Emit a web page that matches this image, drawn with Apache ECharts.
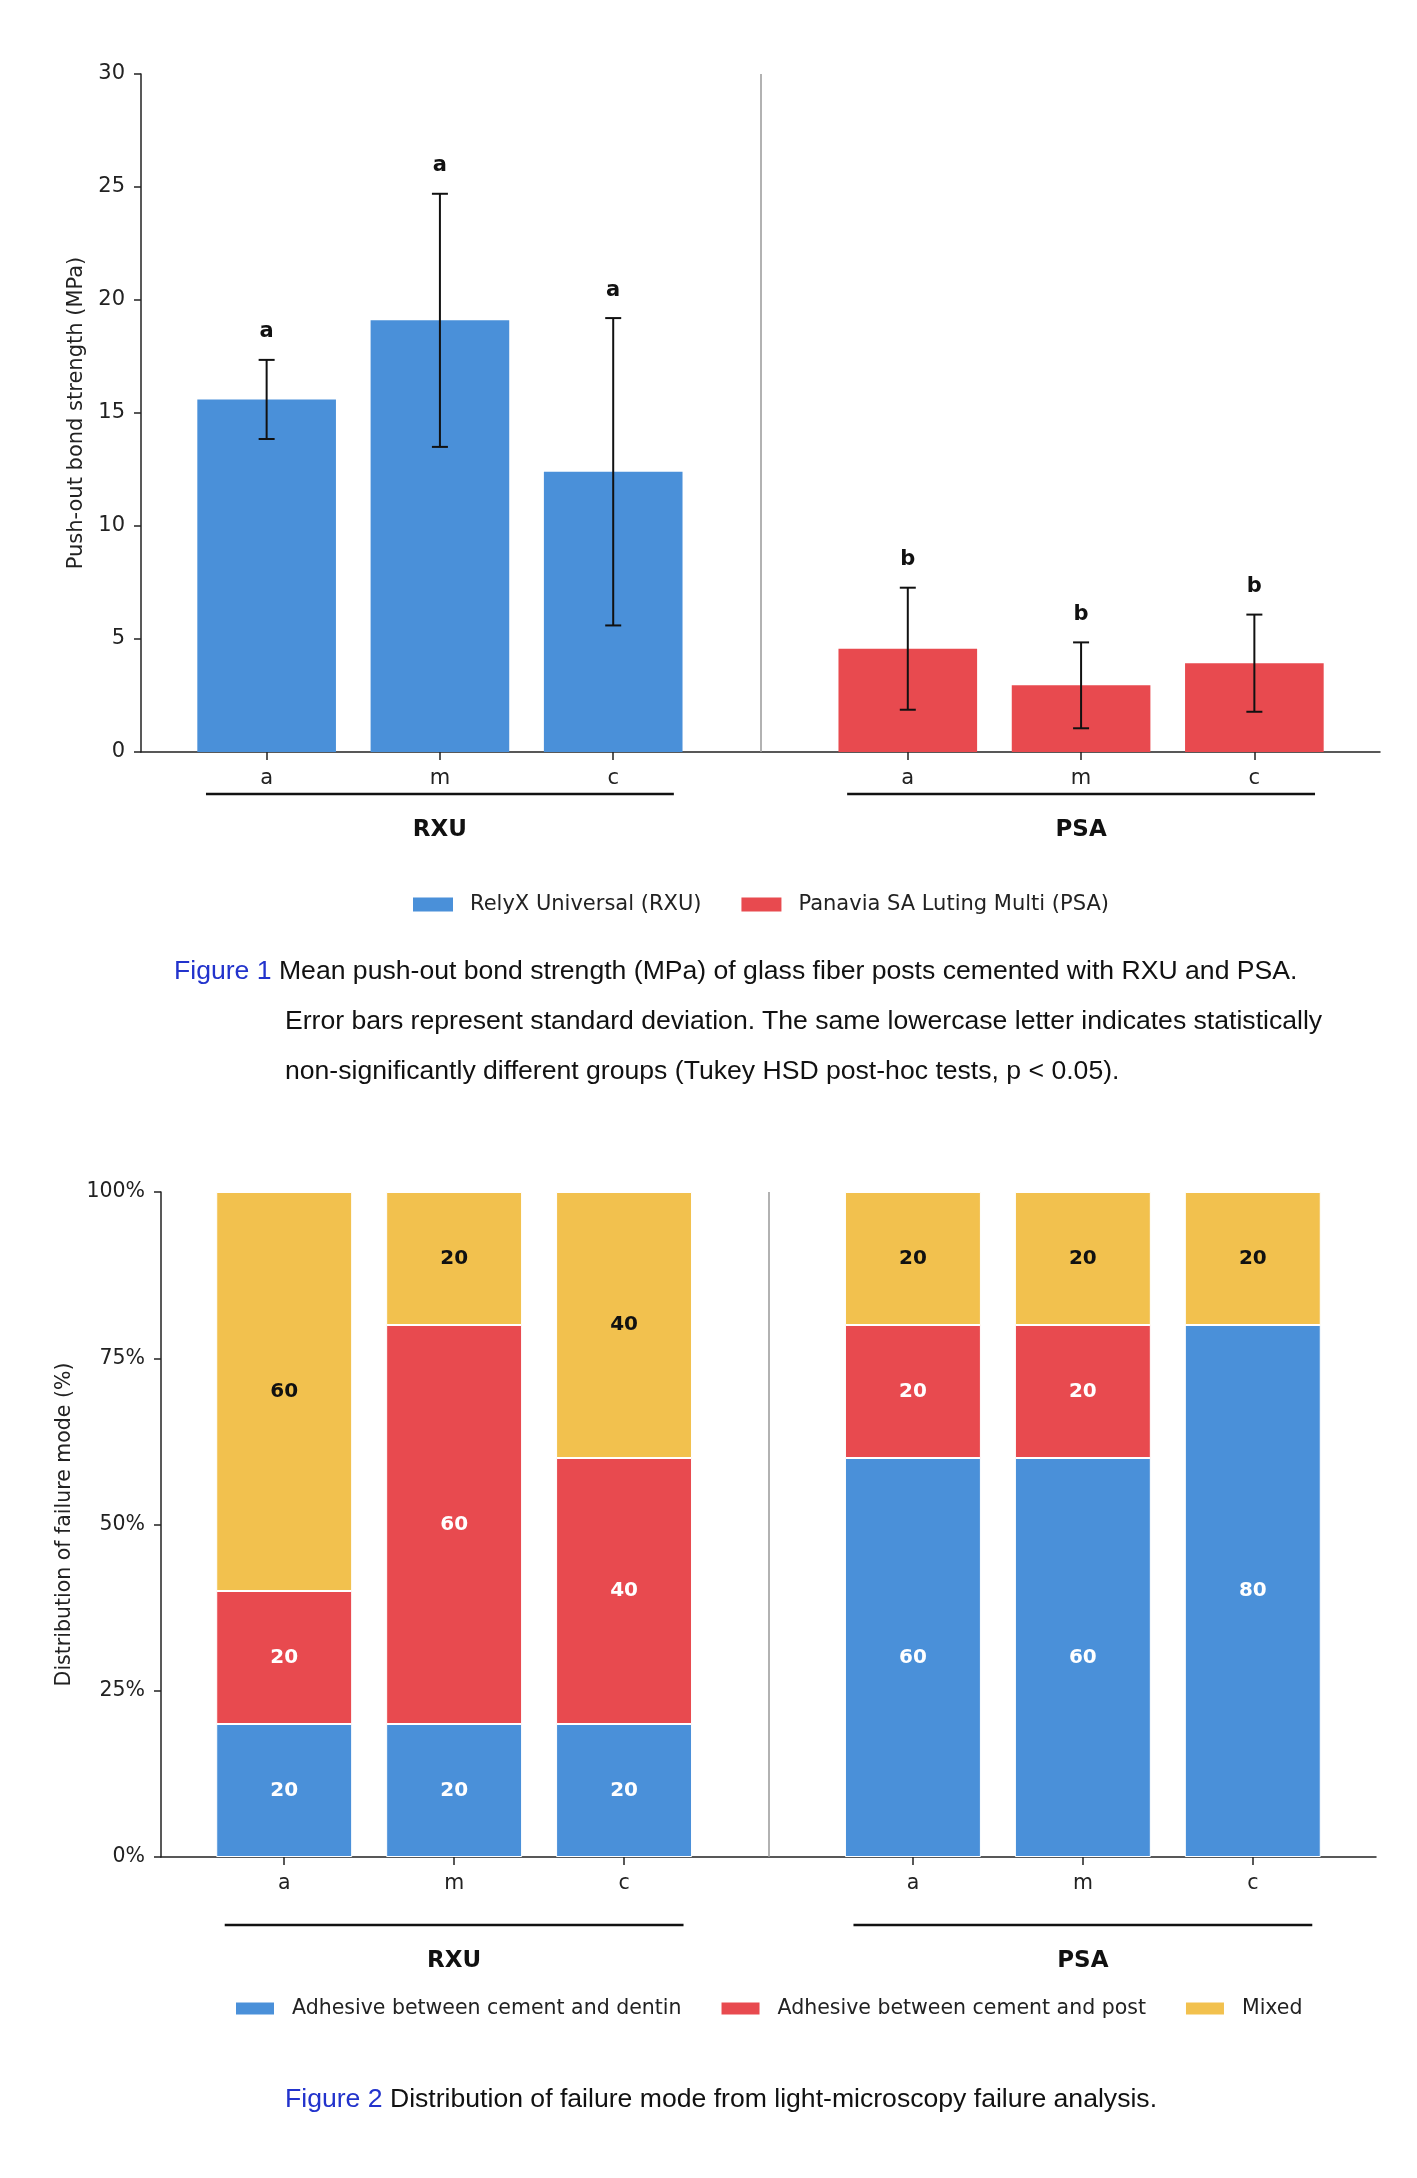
<!DOCTYPE html>
<html>
<head>
<meta charset="utf-8">
<script src="https://cdn.jsdelivr.net/npm/echarts@6/dist/echarts.min.js"></script>
<style>
  body { margin: 0; background: #fff; }
  #chart { position: absolute; left: 0; top: 0; width: 1417px; height: 2178px; }
  .cap { position: absolute; font-family: 'Liberation Sans', Arial, sans-serif; font-size: 26.6px; line-height: 50px; color: #111; white-space: nowrap; }
  .cap .fig { color: #2233cc; }
</style>
</head>
<body>
<div id="chart"></div>
<div class="cap" style="left:285px; top:945px; text-indent:-111px;">
  <span class="fig">Figure 1</span> Mean push-out bond strength (MPa) of glass fiber posts cemented with RXU and PSA.<br>
  Error bars represent standard deviation. The same lowercase letter indicates statistically<br>
  non-significantly different groups (Tukey HSD post-hoc tests, p &lt; 0.05).
</div>
<div class="cap" style="left:285px; top:2073px;">
  <span class="fig">Figure 2</span> Distribution of failure mode from light-microscopy failure analysis.
</div>
<script>
// 数据
const tickLabels = ['a', 'm', 'c', 'a', 'm', 'c'];
const positions = [0, 1, 2, 3.7, 4.7, 5.7];
const groupNames = ['RXU', 'PSA'];
const rxuMean = [15.6, 19.1, 12.4];
const rxuSD = [1.75, 5.6, 6.8];
const psaMean = [4.57, 2.95, 3.93];
const psaSD = [2.7, 1.9, 2.15];
const letters = ['a', 'a', 'a', 'b', 'b', 'b'];
const dentin = [20, 20, 20, 60, 60, 80];
const post = [20, 60, 40, 20, 20, 0];
const mixed = [60, 20, 40, 20, 20, 20];

const BLUE = '#4a90d9', RED = '#e84a4f', YELLOW = '#f2c14e';
const FONT = 'DejaVu Sans';
const FS1 = 21, FS2 = 20.5;
const xMin = -0.725, xMax = 6.425;

const grid1 = { left: 141, top: 74, width: 1239, height: 678 };
const grid2 = { left: 161, top: 1192, width: 1215, height: 665 };
const bw1 = grid1.width / (xMax - xMin) * 0.8;
const bw2 = grid2.width / (xMax - xMin) * 0.8;

const meanAll = rxuMean.concat(psaMean);
const sdAll = rxuSD.concat(psaSD);
const divider = (positions[2] + positions[3]) / 2;

function xAxisCfg(idx, fs) {
  return {
    type: 'value', gridIndex: idx, min: xMin, max: xMax,
    axisLine: { onZero: false, lineStyle: { color: '#222', width: 1.5 } },
    axisTick: { length: 8, customValues: positions, lineStyle: { color: '#222', width: 1.5 } },
    axisLabel: {
      customValues: positions, margin: 16, fontFamily: FONT, fontSize: fs, color: '#222',
      formatter: function (v) {
        let k = 0;
        positions.forEach(function (p, i) { if (Math.abs(p - v) < Math.abs(positions[k] - v)) k = i; });
        return tickLabels[k];
      }
    },
    splitLine: { show: false }
  };
}

function yAxisCfg(idx, max, interval, name, gap, fmt, fs) {
  return {
    type: 'value', gridIndex: idx, min: 0, max: max, interval: interval,
    name: name, nameLocation: 'middle', nameGap: gap,
    nameTextStyle: { fontFamily: FONT, fontSize: fs, color: '#222' },
    axisLine: { show: true, onZero: false, lineStyle: { color: '#222', width: 1.5 } },
    axisTick: { show: true, length: 7, lineStyle: { color: '#222', width: 1.5 } },
    axisLabel: { fontFamily: FONT, fontSize: fs, color: '#222', margin: 16, formatter: fmt },
    splitLine: { show: false }
  };
}

const dividerLine = {
  silent: true, symbol: 'none', label: { show: false },
  lineStyle: { color: '#999', width: 1.5, type: 'solid' },
  data: [{ xAxis: divider }]
};

// 分组横线 + 组名
function bracketSeries(xi, lineOff, textOff) {
  const data = [
    [positions[0] - 0.35, positions[2] + 0.35],
    [positions[3] - 0.35, positions[5] + 0.35]
  ];
  return {
    type: 'custom', xAxisIndex: xi, yAxisIndex: xi, silent: true, clip: false,
    data: data,
    renderItem: function (params, api) {
      const p1 = api.coord([api.value(0), 0]);
      const p2 = api.coord([api.value(1), 0]);
      return {
        type: 'group', children: [
          { type: 'line', shape: { x1: p1[0], y1: p1[1] + lineOff, x2: p2[0], y2: p1[1] + lineOff },
            style: { stroke: '#111', lineWidth: 2.5 } },
          { type: 'text', x: (p1[0] + p2[0]) / 2, y: p1[1] + textOff,
            style: { text: groupNames[params.dataIndex], fill: '#111', font: 'bold 23px ' + FONT,
              align: 'center', verticalAlign: 'middle' } }
        ]
      };
    }
  };
}

// 堆叠柱: 数值放第一维, 让 stack 作用在 y 上
function stackBar(name, vals, color, textColor) {
  return {
    name: name, type: 'bar', stack: 'fail', xAxisIndex: 1, yAxisIndex: 1,
    barWidth: bw2,
    encode: { x: 1, y: 0 },
    data: positions.map(function (p, i) { return [vals[i], p]; }),
    itemStyle: { color: color, borderColor: '#fff', borderWidth: 1 },
    label: {
      show: true, position: 'inside', fontFamily: FONT, fontSize: 20, fontWeight: 'bold', color: textColor,
      formatter: function (p) { return p.value[0] ? String(p.value[0]) : ''; }
    }
  };
}

const myChart = echarts.init(document.getElementById('chart'));
const option = {
  animation: false,
  grid: [grid1, grid2],
  xAxis: [xAxisCfg(0, FS1), xAxisCfg(1, FS2)],
  yAxis: [
    yAxisCfg(0, 30, 5, 'Push-out bond strength (MPa)', 47, '{value}', FS1),
    yAxisCfg(1, 100, 25, 'Distribution of failure mode (%)', 76, '{value}%', FS2)
  ],
  legend: [
    {
      data: ['RelyX Universal (RXU)', 'Panavia SA Luting Multi (PSA)'],
      left: 413, top: 894, padding: 0, icon: 'rect', itemWidth: 40, itemHeight: 14, itemGap: 40,
      textStyle: { fontFamily: FONT, fontSize: FS1, color: '#222', padding: [0, 0, 0, 12] }
    },
    {
      data: ['Adhesive between cement and dentin', 'Adhesive between cement and post', 'Mixed'],
      left: 234, top: 1998, padding: 0, icon: 'rect', itemWidth: 40, itemHeight: 14, itemGap: 38,
      textStyle: { fontFamily: FONT, fontSize: FS2, color: '#222', padding: [0, 0, 0, 12] }
    }
  ],
  series: [
    {
      name: 'RelyX Universal (RXU)', type: 'bar', xAxisIndex: 0, yAxisIndex: 0,
      barWidth: bw1, barGap: '-100%',
      data: rxuMean.map(function (v, i) { return [positions[i], v]; }),
      itemStyle: { color: BLUE },
      markLine: dividerLine
    },
    {
      name: 'Panavia SA Luting Multi (PSA)', type: 'bar', xAxisIndex: 0, yAxisIndex: 0,
      barWidth: bw1, barGap: '-100%',
      data: psaMean.map(function (v, i) { return [positions[i + 3], v]; }),
      itemStyle: { color: RED }
    },
    {
      // 误差线 + 字母
      type: 'custom', xAxisIndex: 0, yAxisIndex: 0, silent: true, clip: false, z: 5,
      data: positions.map(function (p, i) { return [p, meanAll[i], sdAll[i]]; }),
      renderItem: function (params, api) {
        const x = api.value(0), m = api.value(1), s = api.value(2);
        const top = api.coord([x, m + s]);
        const bot = api.coord([x, m - s]);
        const cap = 8;
        const st = { stroke: '#111', lineWidth: 2 };
        return {
          type: 'group', children: [
            { type: 'line', shape: { x1: top[0], y1: top[1], x2: bot[0], y2: bot[1] }, style: st },
            { type: 'line', shape: { x1: top[0] - cap, y1: top[1], x2: top[0] + cap, y2: top[1] }, style: st },
            { type: 'line', shape: { x1: bot[0] - cap, y1: bot[1], x2: bot[0] + cap, y2: bot[1] }, style: st },
            { type: 'text', x: top[0], y: top[1] - 28,
              style: { text: letters[params.dataIndex], fill: '#111', font: 'bold ' + FS1 + 'px ' + FONT,
                align: 'center', verticalAlign: 'middle' } }
          ]
        };
      }
    },
    bracketSeries(0, 42, 78),
    Object.assign(stackBar('Adhesive between cement and dentin', dentin, BLUE, '#fff'), { markLine: dividerLine }),
    stackBar('Adhesive between cement and post', post, RED, '#fff'),
    stackBar('Mixed', mixed, YELLOW, '#111'),
    bracketSeries(1, 68, 104)
  ]
};
myChart.setOption(option);
</script>
</body>
</html>
